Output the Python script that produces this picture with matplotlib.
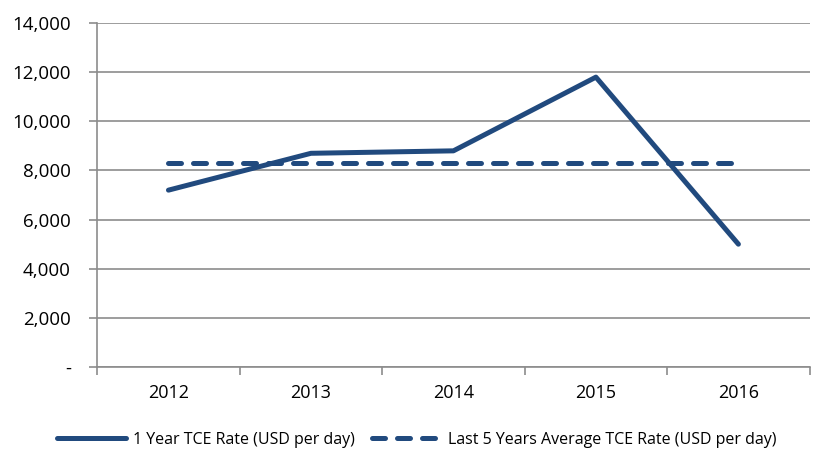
import matplotlib
matplotlib.use('Agg')
import matplotlib.pyplot as plt
from matplotlib.ticker import FuncFormatter, FixedLocator

years = ['2012', '2013', '2014', '2015', '2016']
tce_1y = [7200, 8700, 8800, 11800, 5000]
tce_avg5 = [8300, 8300, 8300, 8300, 8300]

navy = '#214A7E'
grid_grey = '#8C8C8C'

plt.rcParams['font.family'] = ['Open Sans', 'DejaVu Sans']

fig = plt.figure(figsize=(8.17, 4.62), dpi=100)
ax = fig.add_axes([0.119, 0.2056, 0.872, 0.7444])

x = list(range(len(years)))
ax.plot(x, tce_1y, color=navy, linewidth=3.6, solid_capstyle='round',
        label='1 Year TCE Rate (USD per day)')
ax.plot(x, tce_avg5, color=navy, linewidth=3.6, dash_capstyle='round',
        dashes=(2.6, 2.4), label='Last 5 Years Average TCE Rate (USD per day)')

ax.set_xlim(-0.5, len(years) - 0.5)
ax.set_ylim(0, 14000)
ax.set_yticks(range(0, 14001, 2000))
ax.yaxis.set_major_formatter(FuncFormatter(lambda v, p: '-' if v == 0 else f'{int(v):,}'))
ax.grid(axis='y', color=grid_grey, linewidth=1.2)
ax.set_axisbelow(True)

# границы категорий как тики, подписи по центру
ax.xaxis.set_major_locator(FixedLocator([i - 0.5 for i in range(len(years) + 1)]))
ax.xaxis.set_minor_locator(FixedLocator(x))
ax.set_xticklabels([''] * (len(years) + 1))
ax.set_xticklabels(years, minor=True)
ax.tick_params(axis='x', which='major', length=6, width=1.2, color=grid_grey)
ax.tick_params(axis='x', which='minor', length=0, pad=12, labelsize=13)
ax.tick_params(axis='y', length=6, width=1.2, color=grid_grey, labelsize=13.5, pad=13)

for side in ['top', 'right']:
    ax.spines[side].set_visible(False)
for side in ['left', 'bottom']:
    ax.spines[side].set_color(grid_grey)
    ax.spines[side].set_linewidth(1.2)

fig.legend(loc='lower center', bbox_to_anchor=(0.51, 0.0), ncol=2, frameon=False,
           fontsize=11.5, handlelength=4.3, columnspacing=1.1, handletextpad=0.45)

plt.savefig('out.png', dpi=100)
